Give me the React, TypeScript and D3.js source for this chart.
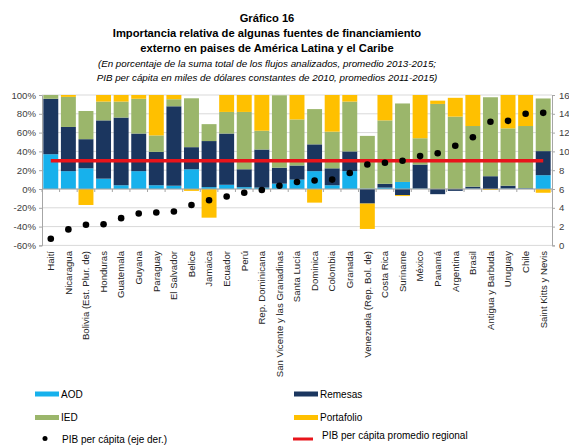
import * as d3 from 'd3';
import React, { useEffect, useRef } from 'react';

const countries = [
	'Haití', 'Nicaragua', 'Bolivia (Est. Plur. de)', 'Honduras', 'Guatemala', 'Guyana', 'Paraguay',
	'El Salvador', 'Belice', 'Jamaica', 'Ecuador', 'Perú', 'Rep. Dominicana',
	'San Vicente y las Granadinas', 'Santa Lucía', 'Dominica', 'Colombia', 'Granada',
	'Venezuela (Rep. Bol. de)', 'Costa Rica', 'Suriname', 'México', 'Panamá', 'Argentina', 'Brasil',
	'Antigua y Barbuda', 'Uruguay', 'Chile', 'Saint Kitts y Nevis',
];
const aod = [37, 19, 22, 11, 4, 19, 4, 3.5, 21, 2, 4.5, 2, 1.5, 5.7, 10, 19, 4, 19, 0.5, 1.5, 7.5, 0.5, 0, 0, 0.5, 0, 0.5, 0.5, 14.7];
const remesas = [59, 47, 31, 62, 72, 40, 35.5, 84.5, 23.5, 49, 54.5, 19, 40.5, 17, 15, 28.5, 18, 21, -15.5, 4, -6.5, 25.5, -5.5, -2, 2, 13.6, 3, 0.5, 25.6];
const ied = [4, 32, 30, 20, 17, 37, 17.5, 7.5, 52, 18, 23, 61, 20, 77, 49, 37.5, 39, 53, 56, 67.5, 83.5, 28, 90.5, 77, 64.5, 84, 61, 66, 56];
const portafolio = [0, 2, -17, 7, 7, 4, 43, 4.5, -2, -30.5, 18, 18, 38, 0, 26, -14.5, 39, 7, -27, 27, -1, 46, 3.5, 20, 33, -1, 35.5, 33, -4];
const pib = [0.7, 1.7, 2.2, 2.25, 2.9, 3.4, 3.5, 3.6, 4.3, 4.8, 5.2, 5.6, 5.9, 6.35, 6.75, 6.9, 7.0, 7.7, 8.6, 8.8, 9.0, 9.5, 9.8, 10.6, 11.5, 13.15, 13.25, 14.0, 14.1];
const pibPromedio = 9;

const leftTicks = [-60, -40, -20, 0, 20, 40, 60, 80, 100];
const rightTicks = [0, 2, 4, 6, 8, 10, 12, 14, 16];

const seriesKeys = ['AOD', 'Remesas', 'IED', 'Portafolio'];
const colors = { AOD: '#17b1ec', Remesas: '#1b365f', IED: '#9bb66b', Portafolio: '#ffc000' };

const FONT = '"Liberation Sans", Arial, sans-serif';

const App = () => {
	const svgRef = useRef(null);

	useEffect(() => {
		const plot = { left: 42, right: 552, top: 95, bottom: 245.4 };

		const svg = d3.select(svgRef.current);
		svg.selectAll('*').remove();

		const rows = countries.map((c, i) => ({
			country: c,
			AOD: aod[i],
			Remesas: remesas[i],
			IED: ied[i],
			Portafolio: portafolio[i],
			pib: pib[i],
		}));

		const x = d3.scaleBand()
			.domain(countries)
			.range([plot.left, plot.right])
			.paddingInner(0.15)
			.paddingOuter(0.075);

		const y = d3.scaleLinear().domain([-60, 100]).range([plot.bottom, plot.top]);
		const y2 = d3.scaleLinear().domain([0, 16]).range([plot.bottom, plot.top]);

		// titles
		const titles = svg.append('g').attr('font-family', FONT).attr('fill', '#000').attr('text-anchor', 'middle');
		titles.append('text').attr('x', 267).attr('y', 22).attr('font-size', 11.2).attr('font-weight', 'bold').text('Gráfico 16');
		titles.append('text').attr('x', 267).attr('y', 37).attr('font-size', 11.2).attr('font-weight', 'bold')
			.text('Importancia relativa de algunas fuentes de financiamiento');
		titles.append('text').attr('x', 267).attr('y', 51.5).attr('font-size', 11.2).attr('font-weight', 'bold')
			.text('externo en paises de América Latina y el Caribe');
		titles.append('text').attr('x', 267).attr('y', 66.5).attr('font-size', 9.8).attr('font-style', 'italic')
			.text('(En porcentaje de la suma total de los flujos analizados, promedio 2013-2015;');
		titles.append('text').attr('x', 267).attr('y', 80.5).attr('font-size', 9.8).attr('font-style', 'italic')
			.text('PIB per cápita en miles de dólares constantes de 2010, promedios 2011-2015)');

		// gridlines
		svg.append('g')
			.selectAll('line')
			.data(leftTicks)
			.join('line')
			.attr('x1', plot.left)
			.attr('x2', plot.right)
			.attr('y1', (d) => y(d))
			.attr('y2', (d) => y(d))
			.attr('stroke', '#d9d9d9')
			.attr('stroke-width', 1);

		// bars
		const stack = d3.stack().keys(seriesKeys).offset(d3.stackOffsetDiverging);
		const series = stack(rows);

		svg.append('g')
			.selectAll('g')
			.data(series)
			.join('g')
			.attr('fill', (s) => colors[s.key])
			.selectAll('rect')
			.data((s) => s)
			.join('rect')
			.attr('x', (d) => x(d.data.country))
			.attr('width', x.bandwidth())
			.attr('y', (d) => y(Math.max(d[0], d[1])))
			.attr('height', (d) => Math.abs(y(d[0]) - y(d[1])));

		// left axis
		const leftAxis = svg.append('g')
			.attr('transform', `translate(${plot.left},0)`)
			.call(d3.axisLeft(y).tickValues(leftTicks).tickSize(3).tickPadding(3).tickFormat((d) => `${d}%`));
		leftAxis.select('.domain').attr('stroke', '#a6a6a6');
		leftAxis.selectAll('.tick line').attr('stroke', '#a6a6a6');
		leftAxis.selectAll('text').attr('font-family', FONT).attr('font-size', 9.6).attr('fill', '#404040');

		// right axis
		const rightAxis = svg.append('g')
			.attr('transform', `translate(${plot.right},0)`)
			.call(d3.axisRight(y2).tickValues(rightTicks).tickSize(3).tickPadding(4));
		rightAxis.select('.domain').attr('stroke', '#a6a6a6');
		rightAxis.selectAll('.tick line').attr('stroke', '#a6a6a6');
		rightAxis.selectAll('text').attr('font-family', FONT).attr('font-size', 9.6).attr('fill', '#404040');

		// category axis at 0%
		const zeroY = y(0);
		svg.append('line')
			.attr('x1', plot.left).attr('x2', plot.right)
			.attr('y1', zeroY).attr('y2', zeroY)
			.attr('stroke', '#a6a6a6');
		const step = x.step();
		const boundaries = countries.map((c) => x(c) - (step - x.bandwidth()) / 2).concat([plot.right]);
		svg.append('g')
			.selectAll('line')
			.data(boundaries)
			.join('line')
			.attr('x1', (d) => d).attr('x2', (d) => d)
			.attr('y1', zeroY).attr('y2', zeroY + 3)
			.attr('stroke', '#a6a6a6');

		// category labels
		svg.append('g')
			.selectAll('text')
			.data(countries)
			.join('text')
			.attr('transform', (d) => `translate(${x(d) + x.bandwidth() / 2 + 3.3},251) rotate(-90)`)
			.attr('text-anchor', 'end')
			.attr('font-family', FONT)
			.attr('font-size', 9.6)
			.attr('fill', '#262626')
			.text((d) => d);

		// regional average line
		svg.append('line')
			.attr('x1', x(countries[0]) + x.bandwidth() / 2)
			.attr('x2', x(countries[countries.length - 1]) + x.bandwidth() / 2)
			.attr('y1', y2(pibPromedio))
			.attr('y2', y2(pibPromedio))
			.attr('stroke', '#e8141b')
			.attr('stroke-width', 3.5);

		// GDP per capita dots
		svg.append('g')
			.selectAll('circle')
			.data(rows)
			.join('circle')
			.attr('cx', (d) => x(d.country) + x.bandwidth() / 2)
			.attr('cy', (d) => y2(d.pib))
			.attr('r', 3.3)
			.attr('fill', '#000');

		// legend
		const legend = svg.append('g').attr('font-family', FONT).attr('font-size', 10).attr('fill', '#000');
		const swatches = [
			{ key: 'AOD', x: 35, y: 394 },
			{ key: 'IED', x: 35, y: 417.5 },
			{ key: 'Remesas', x: 294, y: 394 },
			{ key: 'Portafolio', x: 294, y: 417.5 },
		];
		swatches.forEach((s) => {
			legend.append('rect').attr('x', s.x).attr('y', s.y - 2.5).attr('width', 24).attr('height', 5).attr('fill', colors[s.key]);
			legend.append('text').attr('x', s.x + 26).attr('y', s.y + 3.5).text(s.key);
		});
		legend.append('circle').attr('cx', 45).attr('cy', 438.5).attr('r', 2.5).attr('fill', '#000');
		legend.append('text').attr('x', 62).attr('y', 443).text('PIB per cápita (eje der.)');
		legend.append('rect').attr('x', 293).attr('y', 437.5).attr('width', 20).attr('height', 3).attr('fill', '#e8141b');
		legend.append('text').attr('x', 322).attr('y', 439).text('PIB per cápita promedio regional');

		return () => {
			d3.select(svgRef.current).selectAll('*').remove();
		};
	}, []);

	return (
		<svg
			ref={svgRef}
			width={569}
			height={446}
			style={{ position: 'absolute', left: 0, top: 0, background: '#fff' }}
		/>
	);
};

export default App;
